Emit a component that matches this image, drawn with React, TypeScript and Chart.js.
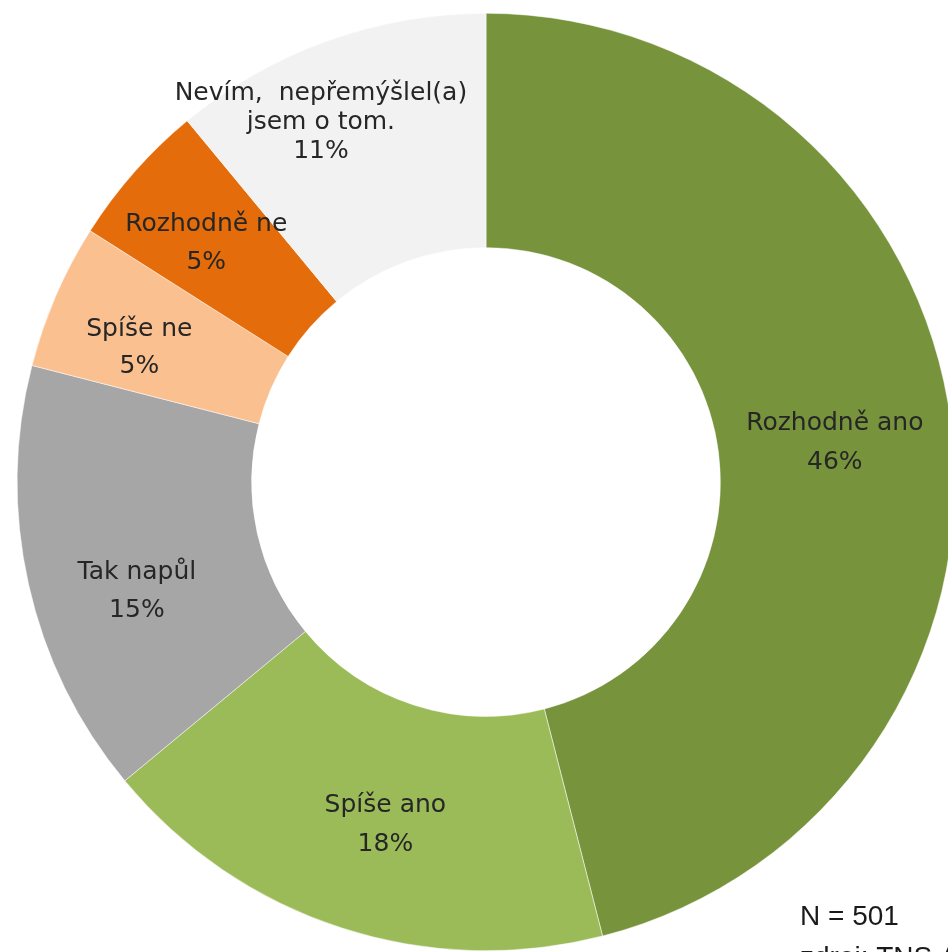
import React, { useEffect, useRef } from 'react';
import { Chart, registerables } from 'chart.js';

Chart.register(...registerables);

const categories = [
  'Rozhodně ano',
  'Spíše ano',
  'Tak napůl',
  'Spíše ne',
  'Rozhodně ne',
  'Nevím, nepřemýšlel(a) jsem o tom.',
];
const labelLines = [
  ['Rozhodně ano'],
  ['Spíše ano'],
  ['Tak napůl'],
  ['Spíše ne'],
  ['Rozhodně ne'],
  ['Nevím,  nepřemýšlel(a)', 'jsem o tom.'],
];
const values = [46, 18, 15, 5, 5, 11];
const colors = ['#77933C', '#9BBB59', '#A6A6A6', '#FAC090', '#E46C0A', '#F2F2F2'];
const sampleNote = 'N = 501';
const sourceNote = 'zdroj: TNS Aisa';

// label placement styles (pixel nudges from the slice's mid point, line heights)
const labelNudges = [
  [0, 5],
  [8, 9],
  [-6, 33],
  [-24, 6],
  [-16, -6],
  [-46, -29],
];
const labelLineHeights = [39, 39, 38, 37, 38, 29];

const labelPlugin = {
  id: 'sliceLabels',
  afterDatasetsDraw(chart: any) {
    const ctx = chart.ctx;
    const meta = chart.getDatasetMeta(0);
    ctx.save();
    ctx.font = '25px "DejaVu Sans"';
    ctx.fillStyle = '#262626';
    ctx.textAlign = 'center';
    ctx.textBaseline = 'middle';
    meta.data.forEach((arc: any, i: number) => {
      const p = arc.getProps(['x', 'y', 'startAngle', 'endAngle', 'innerRadius', 'outerRadius'], true);
      const mid = (p.startAngle + p.endAngle) / 2;
      const r = (p.innerRadius + p.outerRadius) / 2;
      const cx = p.x + Math.cos(mid) * r + labelNudges[i][0];
      const cy = p.y + Math.sin(mid) * r + labelNudges[i][1];
      const lines = [...labelLines[i], `${values[i]}%`];
      const lh = labelLineHeights[i];
      const top = cy - ((lines.length - 1) * lh) / 2;
      lines.forEach((t, k) => ctx.fillText(t, cx, top + k * lh));
    });
    // notes at bottom right
    ctx.textAlign = 'left';
    ctx.textBaseline = 'alphabetic';
    ctx.fillStyle = '#1a1a1a';
    ctx.font = '28px "Liberation Sans"';
    ctx.fillText(sampleNote, 800, 925);
    ctx.fillText(sourceNote, 800, 966);
    ctx.restore();
  },
};

export default function App() {
  const ref = useRef<HTMLCanvasElement>(null);
  useEffect(() => {
    if (!ref.current) return;
    const chart = new Chart(ref.current, {
      type: 'doughnut',
      data: {
        labels: categories,
        datasets: [
          {
            data: values,
            backgroundColor: colors,
            borderColor: '#ffffff',
            borderWidth: 0.5,
          },
        ],
      },
      options: {
        responsive: false,
        animation: false,
        devicePixelRatio: 1,
        cutout: '50%',
        layout: { padding: { left: 17, top: 13, right: 25, bottom: 29 } },
        plugins: {
          legend: { display: false },
          tooltip: { enabled: false },
        },
      },
      plugins: [labelPlugin],
    });
    return () => chart.destroy();
  }, []);
  return (
    <div
      style={{
        position: 'absolute',
        left: 0,
        top: 0,
        width: 948,
        height: 952,
        overflow: 'hidden',
        background: '#ffffff',
      }}
    >
      <canvas ref={ref} width={980} height={980} style={{ display: 'block' }} />
    </div>
  );
}
